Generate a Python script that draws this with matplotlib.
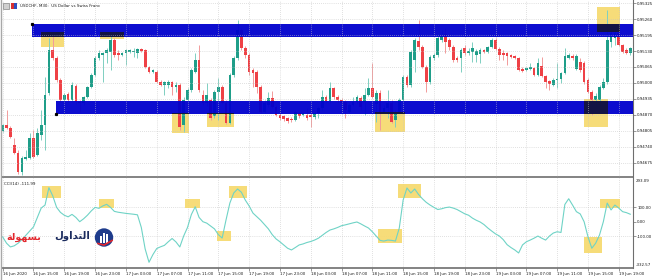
import numpy as np
import matplotlib
matplotlib.use("Agg")
import matplotlib.pyplot as plt
from matplotlib.patches import Rectangle, Circle
from matplotlib.lines import Line2D

# ---------------- data (USDCHF M30) ----------------
opens = [
    0.94805, 0.94829, 0.94817, 0.94748, 0.94715, 0.94638, 0.94691, 0.94695, 0.94776, 0.94707,
    0.94789, 0.94829, 0.94959, 0.95134, 0.95101, 0.95012, 0.94931, 0.94955, 0.94931, 0.94988,
    0.94923, 0.94919, 0.94943, 0.94984, 0.95032, 0.95101, 0.95114, 0.95122, 0.95126, 0.95175,
    0.95122, 0.95114, 0.95122, 0.95126, 0.95126, 0.95122, 0.95138, 0.95134, 0.95065, 0.95045,
    0.95045, 0.95004, 0.94992, 0.94992, 0.95004, 0.94984, 0.94992, 0.94829, 0.94931, 0.94971,
    0.95045, 0.95093, 0.94951, 0.94919, 0.94931, 0.94866, 0.94963, 0.94984, 0.94919, 0.94837,
    0.95032, 0.95101, 0.95215, 0.95142, 0.95114, 0.95053, 0.95045, 0.94984, 0.94882, 0.94910,
    0.94939, 0.94902, 0.94870, 0.94866, 0.94858, 0.94854, 0.94850, 0.94878, 0.94870, 0.94870,
    0.94870, 0.94862, 0.94878, 0.94898, 0.94943, 0.94927, 0.94980, 0.94943, 0.94931, 0.94923,
    0.94882, 0.94910, 0.94923, 0.94939, 0.94923, 0.94951, 0.94980, 0.94915, 0.94959, 0.94882,
    0.94898, 0.94919, 0.94850, 0.94882, 0.94931, 0.95024, 0.94992, 0.95093, 0.95170, 0.95146,
    0.95065, 0.95004, 0.95101, 0.95114, 0.95175, 0.95199, 0.95175, 0.95146, 0.95101, 0.95101,
    0.95142, 0.95122, 0.95126, 0.95114, 0.95118, 0.95134, 0.95126, 0.95146, 0.95175, 0.95138,
    0.95122, 0.95122, 0.95114, 0.95110, 0.95101, 0.95057, 0.95053, 0.95057, 0.95061, 0.95032,
    0.95069, 0.95028, 0.95008, 0.94992, 0.95012, 0.95016, 0.95040, 0.95101, 0.95110, 0.95057,
    0.95085, 0.95081, 0.95012, 0.94963, 0.94931, 0.94931, 0.94980, 0.95004, 0.95166, 0.95183,
    0.95203, 0.95154, 0.95134, 0.95122]
highs = [
    0.94833, 0.94890, 0.94825, 0.94776, 0.94728, 0.94703, 0.94728, 0.94797, 0.94809, 0.94817,
    0.94890, 0.95024, 0.95183, 0.95203, 0.95110, 0.95020, 0.94959, 0.94963, 0.95004, 0.94996,
    0.94931, 0.94947, 0.94988, 0.95040, 0.95110, 0.95134, 0.95126, 0.95142, 0.95203, 0.95183,
    0.95134, 0.95126, 0.95138, 0.95138, 0.95142, 0.95142, 0.95142, 0.95138, 0.95069, 0.95057,
    0.95053, 0.95012, 0.95008, 0.95012, 0.95008, 0.95004, 0.95000, 0.94943, 0.94980, 0.95061,
    0.95122, 0.95154, 0.94971, 0.95000, 0.94939, 0.94971, 0.95020, 0.94992, 0.94931, 0.95040,
    0.95110, 0.95256, 0.95223, 0.95150, 0.95122, 0.95061, 0.95053, 0.94992, 0.94931, 0.94963,
    0.94967, 0.94910, 0.94878, 0.94870, 0.94862, 0.94862, 0.94890, 0.94882, 0.94882, 0.94898,
    0.94890, 0.94882, 0.94906, 0.94971, 0.94951, 0.95004, 0.94984, 0.94951, 0.94939, 0.94931,
    0.94919, 0.94943, 0.94951, 0.94947, 0.94980, 0.95020, 0.95081, 0.94971, 0.94971, 0.94910,
    0.94971, 0.94931, 0.94890, 0.94939, 0.95032, 0.95032, 0.95134, 0.95183, 0.95256, 0.95154,
    0.95073, 0.95114, 0.95122, 0.95195, 0.95215, 0.95223, 0.95183, 0.95154, 0.95110, 0.95142,
    0.95154, 0.95142, 0.95166, 0.95138, 0.95142, 0.95138, 0.95150, 0.95183, 0.95183, 0.95146,
    0.95134, 0.95126, 0.95118, 0.95114, 0.95105, 0.95065, 0.95065, 0.95081, 0.95065, 0.95101,
    0.95105, 0.95032, 0.95012, 0.95020, 0.95081, 0.95045, 0.95142, 0.95122, 0.95118, 0.95118,
    0.95101, 0.95089, 0.95020, 0.94971, 0.94959, 0.94992, 0.95020, 0.95296, 0.95223, 0.95223,
    0.95211, 0.95158, 0.95142, 0.95146]
lows = [
    0.94801, 0.94813, 0.94776, 0.94711, 0.94630, 0.94626, 0.94687, 0.94691, 0.94695, 0.94703,
    0.94768, 0.94728, 0.94951, 0.95093, 0.95004, 0.94923, 0.94878, 0.94927, 0.94927, 0.94915,
    0.94882, 0.94910, 0.94939, 0.94980, 0.95028, 0.95093, 0.95004, 0.95081, 0.95053, 0.95105,
    0.95093, 0.95110, 0.95073, 0.95122, 0.95105, 0.95101, 0.95126, 0.95061, 0.95040, 0.95040,
    0.95000, 0.94988, 0.94951, 0.94980, 0.94951, 0.94963, 0.94809, 0.94801, 0.94923, 0.94963,
    0.95040, 0.94963, 0.94910, 0.94906, 0.94850, 0.94858, 0.94850, 0.94915, 0.94833, 0.94833,
    0.95024, 0.95093, 0.95134, 0.95101, 0.95032, 0.94984, 0.94959, 0.94878, 0.94878, 0.94902,
    0.94898, 0.94866, 0.94850, 0.94845, 0.94837, 0.94841, 0.94845, 0.94858, 0.94866, 0.94850,
    0.94821, 0.94854, 0.94858, 0.94890, 0.94919, 0.94919, 0.94935, 0.94923, 0.94910, 0.94858,
    0.94878, 0.94906, 0.94915, 0.94890, 0.94870, 0.94947, 0.94939, 0.94841, 0.94809, 0.94878,
    0.94858, 0.94837, 0.94821, 0.94878, 0.94927, 0.94984, 0.94984, 0.95045, 0.95134, 0.95061,
    0.94963, 0.94996, 0.95093, 0.95105, 0.95166, 0.95122, 0.95134, 0.95085, 0.95085, 0.95045,
    0.95114, 0.95114, 0.95085, 0.95085, 0.95081, 0.95122, 0.95122, 0.95142, 0.95134, 0.95093,
    0.95093, 0.95073, 0.95101, 0.95097, 0.95049, 0.95045, 0.95049, 0.95053, 0.95028, 0.95028,
    0.95024, 0.94980, 0.94971, 0.94988, 0.94980, 0.95000, 0.95036, 0.95097, 0.95093, 0.95053,
    0.95045, 0.94996, 0.94959, 0.94870, 0.94898, 0.94898, 0.94975, 0.94996, 0.95146, 0.95154,
    0.95150, 0.95122, 0.95118, 0.95114]
closes = [
    0.94829, 0.94817, 0.94780, 0.94715, 0.94638, 0.94695, 0.94699, 0.94776, 0.94699, 0.94797,
    0.94829, 0.94951, 0.95134, 0.95101, 0.95012, 0.94931, 0.94951, 0.94931, 0.94992, 0.94923,
    0.94919, 0.94943, 0.94984, 0.95032, 0.95101, 0.95122, 0.95122, 0.95134, 0.95175, 0.95114,
    0.95114, 0.95122, 0.95134, 0.95134, 0.95130, 0.95138, 0.95130, 0.95065, 0.95045, 0.95053,
    0.95004, 0.94992, 0.95004, 0.95004, 0.94984, 0.94992, 0.94821, 0.94931, 0.94971, 0.95053,
    0.95093, 0.94971, 0.94919, 0.94951, 0.94858, 0.94963, 0.94984, 0.94919, 0.94837, 0.95032,
    0.95101, 0.95215, 0.95142, 0.95114, 0.95045, 0.95040, 0.94984, 0.94882, 0.94919, 0.94939,
    0.94902, 0.94870, 0.94858, 0.94854, 0.94845, 0.94850, 0.94882, 0.94866, 0.94878, 0.94858,
    0.94862, 0.94878, 0.94898, 0.94943, 0.94927, 0.94980, 0.94943, 0.94931, 0.94919, 0.94890,
    0.94910, 0.94923, 0.94943, 0.94902, 0.94951, 0.94980, 0.94943, 0.94959, 0.94882, 0.94898,
    0.94919, 0.94841, 0.94882, 0.94931, 0.95024, 0.94992, 0.95126, 0.95175, 0.95146, 0.95065,
    0.95004, 0.95105, 0.95114, 0.95183, 0.95191, 0.95166, 0.95146, 0.95093, 0.95093, 0.95134,
    0.95122, 0.95130, 0.95142, 0.95130, 0.95134, 0.95126, 0.95146, 0.95175, 0.95138, 0.95114,
    0.95114, 0.95110, 0.95105, 0.95101, 0.95053, 0.95049, 0.95061, 0.95065, 0.95032, 0.95081,
    0.95028, 0.95004, 0.94996, 0.95012, 0.95016, 0.95040, 0.95110, 0.95114, 0.95101, 0.95110,
    0.95053, 0.95004, 0.94963, 0.94931, 0.94947, 0.94984, 0.95004, 0.95175, 0.95203, 0.95203,
    0.95154, 0.95126, 0.95122, 0.95142]
cci = [
    -106, -150, -176, -168, -150, -125, -95, -65, -36, 30,
    95, 116, 237, 180, 100, 65, 45, 34, 51, 30,
    0, 20, 45, 75, 100, 93, 110, 121, 100, 72,
    66, 62, 58, 55, 52, 48, -40, -190, -283, -230,
    -187, -175, -165, -140, -117, -141, -176, -100, -40, 50,
    104, 30, 0, -10, -30, -50, -90, -114, 12, 130,
    200, 228, 205, 151, 110, 60, 35, 10, -20, -50,
    -90, -120, -140, -162, -185, -197, -180, -162, -155, -145,
    -138, -128, -115, -95, -75, -58, -50, -40, -28, -22,
    -15, -8, -2, -15, -30, -44, -70, -100, -130, -135,
    -128, -130, -135, -44, 151, 235, 200, 228, 190, 160,
    135, 116, 100, 85, 90, 98, 102, 95, 85, 70,
    55, 45, 25, 10, -2, -20, -44, -65, -85, -100,
    -125, -160, -180, -197, -218, -162, -140, -128, -115, -100,
    -115, -128, -100, -79, -70, -75, 120, 160, 116, 70,
    54, 0, -105, -185, -150, -93, 0, 130, 82, 116,
    95, 70, 63, 52]

time_labels = ["16 Jun 2020", "16 Jun 15:00", "16 Jun 19:00", "16 Jun 23:00",
               "17 Jun 03:00", "17 Jun 07:00", "17 Jun 11:00", "17 Jun 15:00",
               "17 Jun 19:00", "17 Jun 23:00", "18 Jun 03:00", "18 Jun 07:00",
               "18 Jun 11:00", "18 Jun 15:00", "18 Jun 19:00", "18 Jun 23:00",
               "19 Jun 03:00", "19 Jun 07:00", "19 Jun 11:00", "19 Jun 15:00",
               "19 Jun 19:00"]
time_label_bars = list(range(0, 161, 8))
price_ticks = [0.95325, 0.95260, 0.95195, 0.95130, 0.95065, 0.95000,
               0.94935, 0.94870, 0.94805, 0.94740, 0.94675]
cci_levels = [100.00, 0.00, -100.00]
cci_range_labels = ["293.09", "-332.57"]
resistance_zone = (0.95187, 0.95240)
support_zone = (0.94874, 0.94927)
# highlighted areas: (bar_from, bar_to, price_low, price_high)
price_highlights = [(9.95, 15.9, 0.95146, 0.95207), (25.3, 31.5, 0.95177, 0.95207),
                    (44.0, 48.4, 0.94797, 0.94878), (53.1, 60.1, 0.94820, 0.94880),
                    (96.7, 104.5, 0.94802, 0.94883), (151.0, 157.2, 0.94820, 0.94935),
                    (154.4, 160.3, 0.95208, 0.95308)]
cci_highlights = [(10.1, 15.1, 163, 249), (25.1, 28.9, 93, 156), (47.4, 51.2, 93, 156),
                  (55.7, 59.3, -135, -65), (58.8, 63.5, 165, 249), (97.5, 103.7, -148, -51),
                  (102.7, 108.6, 165, 263), (151.0, 155.6, -216, -109), (155.0, 160.3, 98, 156)]

# ---------------- figure ----------------
W, H = 659, 280
fig = plt.figure(figsize=(W / 100, H / 100), dpi=100)
fig.patch.set_facecolor("white")
FS = 2.9
TXT = "#1a1a1a"
GRID = "#c4c4c4"
AXC = "#6e6e6e"


def px_axes(x0, y0, x1, y1):
    return fig.add_axes([x0 / W, 1 - y1 / H, (x1 - x0) / W, (y1 - y0) / H])


ax = px_axes(2, 0, 633, 177)
ax2 = px_axes(2, 178, 633, 268)
XL = (-0.18, 163.7)
for a in (ax, ax2):
    a.set_xlim(*XL)
    a.set_facecolor("white")
    for s in ("top", "left"):
        a.spines[s].set_visible(False)
    a.spines["right"].set_color(AXC)
    a.spines["right"].set_linewidth(0.8)
    a.spines["bottom"].set_color(AXC)
    a.spines["bottom"].set_linewidth(1.2)
    a.yaxis.tick_right()
    a.tick_params(axis="y", direction="out", length=2, width=0.5, color=AXC,
                  labelsize=FS, pad=1, labelcolor=TXT)

ax.set_ylim(0.946181, 0.953372)
ax2.set_ylim(-322.7, 304.6)

# ---- main panel ----
o = np.array(opens); h = np.array(highs); l = np.array(lows); c = np.array(closes)
idx = np.arange(len(o))
up = c >= o
body_col = np.where(up, "#1f9e89", "#ef4146")
wick_col = np.where(up, "#7fcfc1", "#f29a9a")
ax.vlines(idx, l, h, colors=wick_col, lw=0.7, zorder=2)
ax.bar(idx, np.maximum(np.abs(c - o), 0.000015), bottom=np.minimum(o, c), width=0.7,
       color=body_col, linewidth=0, zorder=2.5)

ax.set_yticks(price_ticks)
ax.set_yticklabels([f"{p:.5f}" for p in price_ticks])
ax.set_xticks([])

for p in price_ticks:
    ax.axhline(p, color=GRID, lw=0.5, ls=(0, (1, 2)), zorder=4)
for b in time_label_bars:
    ax.axvline(b, color=GRID, lw=0.5, ls=(0, (1, 2)), zorder=4)
    ax2.axvline(b, color=GRID, lw=0.5, ls=(0, (1, 2)), zorder=1)

BLUE = "#0000cd"
zones = [(7.6, resistance_zone), (13.85, support_zone)]
for x0, (zl, zh) in zones:
    ax.add_patch(Rectangle((x0, zl), XL[1] - x0, zh - zl, facecolor=BLUE,
                           edgecolor="none", alpha=0.95, zorder=3))
ax.plot([7.6], [resistance_zone[1]], "s", ms=1.3, color="black", zorder=6)
ax.plot([13.85], [support_zone[0]], "s", ms=1.3, color="black", zorder=6)

YEL = "#f6d96b"
for x0, x1, y0, y1 in price_highlights:
    ax.add_patch(Rectangle((x0, y0), x1 - x0, y1 - y0, facecolor=YEL,
                           edgecolor="none", alpha=0.9, zorder=1.5))
    for zx0, (zl, zh) in zones:
        ix0, ix1 = max(x0, zx0), x1
        iy0, iy1 = max(y0, zl), min(y1, zh)
        if ix1 > ix0 and iy1 > iy0:
            ax.add_patch(Rectangle((ix0, iy0), ix1 - ix0, iy1 - iy0, facecolor="#15153a",
                                   edgecolor="none", alpha=0.93, zorder=3.5))

# ---- CCI panel ----
ax2.spines["top"].set_visible(False)
for y in (100, -100):
    ax2.axhline(y, color=GRID, lw=0.5, ls=(0, (1, 2)), zorder=1)
for x0, x1, y0, y1 in cci_highlights:
    ax2.add_patch(Rectangle((x0, y0), x1 - x0, y1 - y0, facecolor=YEL,
                            edgecolor="none", alpha=0.9, zorder=1.5))
ax2.plot(idx, cci, color="#6fd3c6", lw=0.8, zorder=3)
ax2.set_yticks(cci_levels)
ax2.set_yticklabels([f"{v:.2f}" for v in cci_levels])
ax2.set_xticks(time_label_bars)
ax2.set_xticklabels(time_labels)
ax2.tick_params(axis="x", direction="out", length=2, width=0.5, color=AXC,
                labelsize=FS, pad=1, labelcolor=TXT)
for lbl in ax2.get_xticklabels():
    lbl.set_horizontalalignment("left")

fig.text(636 / W, 1 - 181 / H, cci_range_labels[0], fontsize=FS, color=TXT, va="center")
fig.text(636 / W, 1 - 265 / H, cci_range_labels[1], fontsize=FS, color=TXT, va="center")
fig.text(4 / W, 1 - 184 / H, "CCI(14) -111.99", fontsize=FS, color=TXT, va="center")

# ---- title & icons ----
fig.text(20 / W, 1 - 6 / H, "USDCHF, M30:  US Dollar vs Swiss Franc", fontsize=FS,
         color=TXT, va="center")
fig.patches.append(Rectangle((3 / W, 1 - 9 / H), 6 / W, 6 / H, transform=fig.transFigure,
                             facecolor="#d0d0d0", edgecolor="#707070", lw=0.4))
fig.patches.append(Rectangle((11 / W, 1 - 9 / H), 3 / W, 6 / H, transform=fig.transFigure,
                             facecolor="#d93030", edgecolor="none"))
fig.patches.append(Rectangle((14 / W, 1 - 9 / H), 3 / W, 6 / H, transform=fig.transFigure,
                             facecolor="#3050c0", edgecolor="none"))
fig.add_artist(Line2D([1 / W, 1 / W], [0, 1], transform=fig.transFigure,
                      color="#a8a8a8", lw=1.0))

# ---- logo ----
fig.text(41 / W, 1 - 237 / H, "\ufe94\ufedf\ufeee\ufeec\ufeb4\ufe91", fontsize=6.8,
         fontweight="bold", color="#e3262c", ha="right", va="center", family="DejaVu Sans")
fig.text(90 / W, 1 - 236 / H, "\ufedd\ufeed\ufe8d\ufeaa\ufe98\ufedf\ufe8d", fontsize=7.3,
         fontweight="bold", color="#1b2b5e", ha="right", va="center", family="DejaVu Sans")
axl = px_axes(94, 227, 114, 248)
axl.set_xlim(0, 1); axl.set_ylim(0, 1); axl.axis("off"); axl.set_aspect("equal")
axl.add_patch(Circle((0.5, 0.5), 0.46, facecolor="#1e3c8c", edgecolor="none"))
for bx, bh in ((0.3, 0.35), (0.46, 0.5), (0.62, 0.42)):
    axl.add_patch(Rectangle((bx, 0.25), 0.1, bh, facecolor="white", edgecolor="none"))
axl.plot([0.2, 0.5, 0.9], [0.2, 0.12, 0.35], color="#e3262c", lw=1.2)

fig.savefig("out.png", dpi=100, facecolor="white")
